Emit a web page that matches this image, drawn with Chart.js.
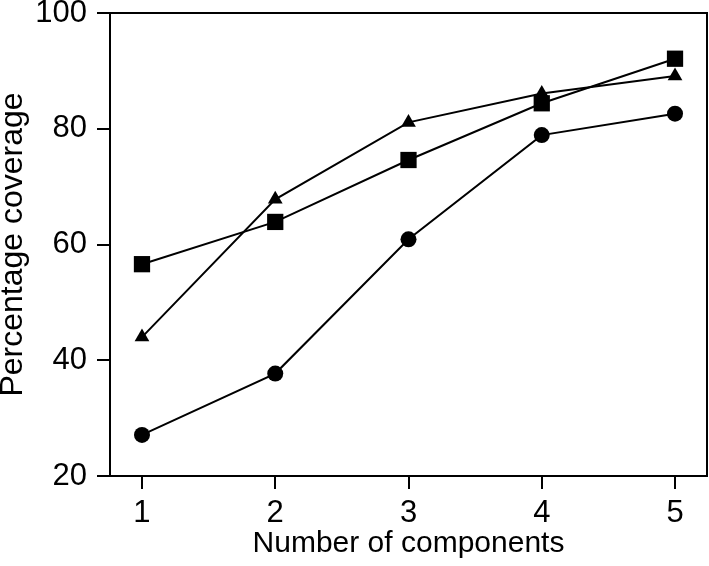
<!DOCTYPE html>
<html>
<head>
<meta charset="utf-8">
<script src="https://cdn.jsdelivr.net/npm/chart.js@4.4.0/dist/chart.umd.min.js"></script>
<style>
  html, body { margin: 0; padding: 0; background: #fff; }
  #wrap { width: 709px; height: 566px; }
</style>
</head>
<body>
<div id="wrap"><canvas id="chart" width="709" height="566"></canvas></div>
<script>
// number of components on the x axis
const components = [1, 2, 3, 4, 5];
// percentage coverage, one array per marker
const circleSeries = [27.1, 37.7, 60.9, 78.9, 82.6];
const squareSeries = [56.6, 63.9, 74.6, 84.4, 92.1];
const triangleSeries = [44.0, 67.8, 81.1, 86.1, 89.1];
const yTicks = [20, 40, 60, 80, 100];

const FONT = '"Liberation Sans", Arial, Helvetica, sans-serif';

function toPoints(values) {
    return components.map((c, i) => ({ x: c, y: values[i] }));
}

function series(values, style, radius) {
    return {
        data: toPoints(values),
        borderColor: '#000',
        backgroundColor: '#000',
        borderWidth: 2,
        pointStyle: style,
        pointRadius: radius,
        pointHoverRadius: radius,
        pointBorderWidth: 0,
        tension: 0,
        fill: false,
    };
}

// closes the frame on top and right side
const frame = {
    id: 'frame',
    afterDraw(chart) {
        const { ctx, chartArea: a } = chart;
        ctx.save();
        ctx.strokeStyle = '#000';
        ctx.lineWidth = 2;
        ctx.strokeRect(a.left, a.top, a.right - a.left, a.bottom - a.top);
        ctx.restore();
    }
};

new Chart(document.getElementById('chart'), {
    type: 'line',
    data: {
        datasets: [
            series(circleSeries, 'circle', 8),
            series(squareSeries, 'rect', 11.5),
            series(triangleSeries, 'triangle', 8.5),
        ]
    },
    options: {
        responsive: false,
        animation: false,
        events: [],
        layout: { autoPadding: false, padding: { top: 13, right: 2, left: 0, bottom: 0 } },
        plugins: { legend: { display: false }, tooltip: { enabled: false } },
        scales: {
            x: {
                type: 'linear',
                min: 0.76,
                max: 5.24,
                afterBuildTicks: (axis) => { axis.ticks = components.map(v => ({ value: v })); },
                afterFit: (axis) => { axis.height = 90; axis.paddingLeft = 0; axis.paddingRight = 0; },
                grid: { drawOnChartArea: false, drawTicks: true, tickLength: 13, color: '#000', lineWidth: 2 },
                border: { display: true, color: '#000', width: 2 },
                ticks: { color: '#000', font: { family: FONT, size: 31 }, padding: 6, maxRotation: 0 },
                title: { display: true, text: 'Number of components', color: '#000', font: { family: FONT, size: 30 }, padding: { top: 0, bottom: 4 } }
            },
            y: {
                min: 20,
                max: 100,
                afterBuildTicks: (axis) => { axis.ticks = yTicks.map(v => ({ value: v })); },
                afterFit: (axis) => { axis.width = 110; axis.paddingTop = 0; axis.paddingBottom = 0; },
                grid: { drawOnChartArea: false, drawTicks: true, tickLength: 13, color: '#000', lineWidth: 2 },
                border: { display: true, color: '#000', width: 2 },
                ticks: { color: '#000', font: { family: FONT, size: 31 }, padding: 10 },
                title: { display: true, text: 'Percentage coverage', color: '#000', font: { family: FONT, size: 32, lineHeight: 1 }, padding: { top: -3, bottom: 0 } }
            }
        }
    },
    plugins: [frame]
});
</script>
</body>
</html>
